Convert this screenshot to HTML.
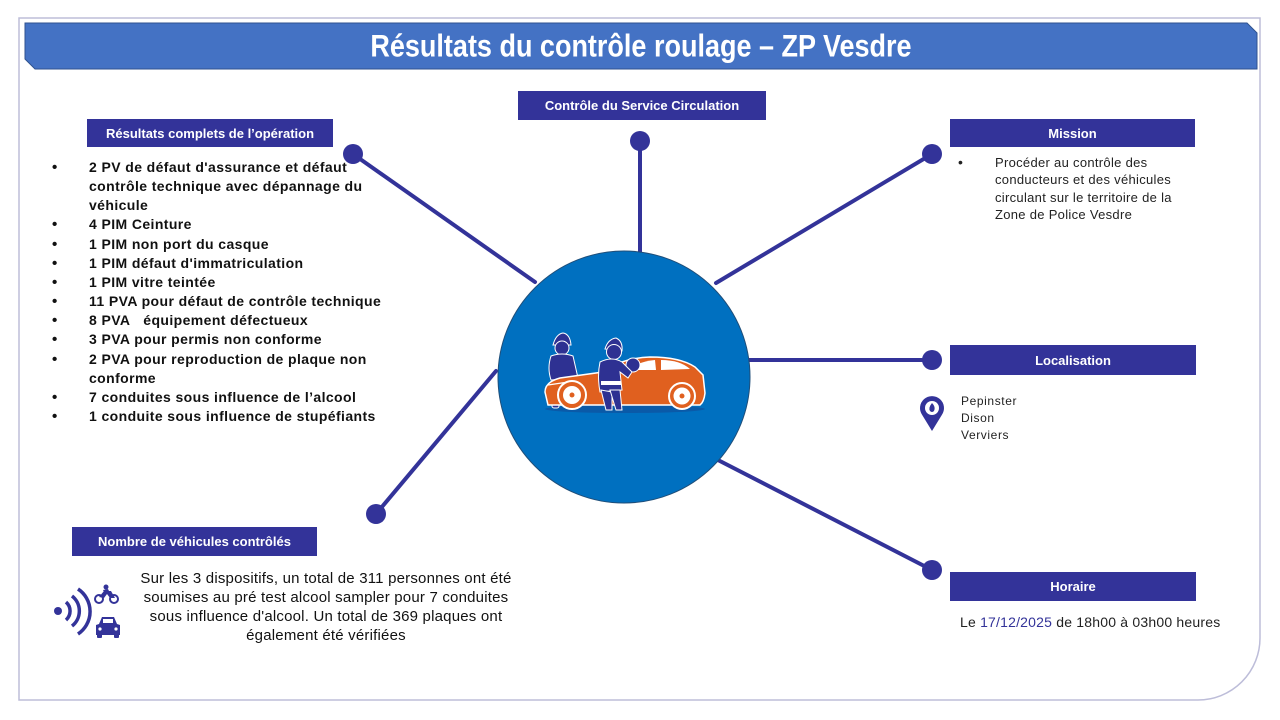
<!DOCTYPE html>
<html><head><meta charset="utf-8">
<style>
html,body{margin:0;padding:0;background:#fff;}
#c{position:relative;width:1280px;height:720px;overflow:hidden;font-family:"Liberation Sans",sans-serif;}
svg{position:absolute;left:0;top:0;}
.box{position:absolute;background:#333399;color:#fff;font-weight:bold;font-size:13px;display:flex;align-items:center;justify-content:center;white-space:nowrap;}
.title{position:absolute;left:25px;top:23px;width:1232px;height:46px;display:flex;align-items:center;justify-content:center;color:#fff;font-weight:bold;font-size:27px;}
.title span{display:inline-block;transform:scaleY(1.15);}
.list{position:absolute;left:0;top:158px;font-weight:bold;font-size:14px;letter-spacing:0.4px;line-height:19.15px;color:#111;white-space:nowrap;}
.list div{position:relative;padding-left:89px;}
.list div.b::before{content:"•";position:absolute;left:52px;top:0;font-size:15px;}
.mission{position:absolute;left:995px;top:154px;font-size:13px;letter-spacing:0.3px;line-height:17.3px;color:#222;white-space:nowrap;}
.mission::before{content:"•";position:absolute;left:-37px;top:0;font-size:14px;}
.loc{position:absolute;left:961px;top:393px;font-size:12px;letter-spacing:0.6px;line-height:17px;color:#222;}
.hor{position:absolute;left:960px;top:614px;font-size:14px;letter-spacing:0.2px;color:#222;white-space:nowrap;}
.hor b{font-weight:normal;color:#333399;}
.nb{position:absolute;left:126px;width:400px;top:569px;text-align:center;font-size:15px;letter-spacing:0.2px;line-height:19px;color:#111;white-space:nowrap;}
</style></head>
<body><div id="c">
<svg width="1280" height="720" viewBox="0 0 1280 720">
  <path d="M19,18 H1260 V638 A62,62 0 0 1 1198,700 H19 Z" fill="none" stroke="#bdbdd9" stroke-width="1.5"/>
  <polygon points="25,23 1247,23 1257,33 1257,69 35,69 25,59" fill="#4472c4" stroke="#2f528f" stroke-width="1"/>
  <g stroke="#333399" stroke-width="4" stroke-linecap="round">
    <line x1="353" y1="154" x2="535" y2="282"/>
    <line x1="640" y1="141" x2="640" y2="258"/>
    <line x1="932" y1="154" x2="716" y2="283"/>
    <line x1="748" y1="360" x2="932" y2="360"/>
    <line x1="716" y1="459" x2="932" y2="570"/>
    <line x1="496" y1="371" x2="376" y2="514"/>
  </g>
  <g fill="#333399">
    <circle cx="353" cy="154" r="10"/>
    <circle cx="640" cy="141" r="10"/>
    <circle cx="932" cy="154" r="10"/>
    <circle cx="932" cy="360" r="10"/>
    <circle cx="932" cy="570" r="10"/>
    <circle cx="376" cy="514" r="10"/>
  </g>
  <circle cx="624" cy="377" r="126" fill="#0070c0" stroke="#1f4e79" stroke-width="1"/>
  <ellipse cx="625" cy="409" rx="80" ry="4" fill="#0a5aa8"/>
  <g fill="#2e3192" stroke="#fff" stroke-width="1">
    <path d="M553,345 Q556,334 563,333 Q570,334 571,345 Z"/>
    <circle cx="562" cy="348" r="7"/>
    <path d="M551,356 Q562,352 573,356 L578,378 L551,380 Q547,368 551,356 Z"/>
    <rect x="552" y="395" width="7" height="13" rx="2"/>
  </g>
  <path d="M548,405 L545,392 Q545,382 560,378 L603,372 Q622,358 650,357 Q680,357 695,367 L703,375 L705,393 Q704,402 700,405 Z" fill="#e0601f" stroke="#fff" stroke-width="1.5"/>
  <path d="M627,370 Q640,361 655,360 L656,370 Z" fill="#fff"/>
  <path d="M661,360 Q680,360 690,369 L661,370 Z" fill="#fff"/>
  <path d="M548,385 L575,381" stroke="#fff" stroke-width="1.2" fill="none"/>
  <g>
    <circle cx="572" cy="395" r="14" fill="#e0601f" stroke="#fff" stroke-width="2"/>
    <circle cx="572" cy="395" r="9" fill="#fff"/>
    <circle cx="572" cy="395" r="2.5" fill="#e0601f"/>
    <circle cx="682" cy="396" r="13" fill="#e0601f" stroke="#fff" stroke-width="2"/>
    <circle cx="682" cy="396" r="8.5" fill="#fff"/>
    <circle cx="682" cy="396" r="2.5" fill="#e0601f"/>
  </g>
  <circle cx="633" cy="365" r="7" fill="#2e3192" stroke="#fff" stroke-width="1"/>
  <g fill="#2e3192" stroke="#fff" stroke-width="1">
    <path d="M605,349 Q608,339 616,338 Q623,341 622,351 Z"/>
    <circle cx="614" cy="352" r="7.5"/>
    <path d="M600,362 Q612,356 622,362 L632,372 L628,378 L620,372 L622,390 L600,392 Q597,376 600,362 Z"/>
    <path d="M601,390 L606,410 L612,410 L612,392 Z"/>
    <path d="M610,390 L616,410 L622,410 L620,390 Z"/>
  </g>
  <rect x="601" y="381" width="20" height="4" fill="#fff"/>
  <path d="M932,431 L922.2,415 A12,12 0 1 1 941.8,415 Z" fill="#333399"/>
  <circle cx="932" cy="408" r="7" fill="#fff"/>
  <path d="M932,403 Q936,407 934,411 Q932,413 930,411 Q928,408 932,403 Z" fill="#333399"/>
  <g fill="#333399">
    <circle cx="58" cy="611" r="4"/>
  </g>
  <g fill="none" stroke="#333399" stroke-width="3.5">
    <path d="M66,602 A12,12 0 0 1 66,620"/>
    <path d="M72,596 A19,19 0 0 1 72,626"/>
    <path d="M78,589 A27,27 0 0 1 78,634"/>
  </g>
  <g fill="#333399">
    <circle cx="99" cy="599" r="4" fill="none" stroke="#333399" stroke-width="2"/>
    <circle cx="114" cy="599" r="4" fill="none" stroke="#333399" stroke-width="2"/>
    <path d="M99,597 L104,591 L111,591 L115,598 L110,598 L107,594 L104,598 Z"/>
    <circle cx="106" cy="587" r="2.5"/>
    <path d="M103,590 L108,589 L110,593 L105,594 Z"/>
  </g>
  <g fill="#333399">
    <path d="M99,624 L102,617 L114,617 L117,624 L120,625 L120,635 L96,635 L96,625 Z"/>
    <rect x="97" y="634" width="5" height="4" rx="1"/>
    <rect x="114" y="634" width="5" height="4" rx="1"/>
    <rect x="103" y="619" width="10" height="4" fill="#fff"/>
    <circle cx="100" cy="629" r="1.6" fill="#fff"/>
    <circle cx="116" cy="629" r="1.6" fill="#fff"/>
  </g>
</svg>

<div class="title"><span>Résultats du contrôle roulage – ZP Vesdre</span></div>

<div class="box" style="left:518px;top:91px;width:248px;height:29px;">Contrôle du Service Circulation</div>
<div class="box" style="left:87px;top:119px;width:246px;height:28px;">Résultats complets de l’opération</div>
<div class="box" style="left:950px;top:119px;width:245px;height:28px;">Mission</div>
<div class="box" style="left:950px;top:345px;width:246px;height:30px;">Localisation</div>
<div class="box" style="left:950px;top:572px;width:246px;height:29px;">Horaire</div>
<div class="box" style="left:72px;top:527px;width:245px;height:29px;">Nombre de véhicules contrôlés</div>

<div class="list">
  <div class="b">2 PV de défaut d'assurance et défaut</div>
  <div>contrôle technique avec dépannage du</div>
  <div>véhicule</div>
  <div class="b">4 PIM Ceinture</div>
  <div class="b">1 PIM non port du casque</div>
  <div class="b">1 PIM défaut d'immatriculation</div>
  <div class="b">1 PIM vitre teintée</div>
  <div class="b">11 PVA pour défaut de contrôle technique</div>
  <div class="b">8 PVA&nbsp;&nbsp; équipement défectueux</div>
  <div class="b">3 PVA pour permis non conforme</div>
  <div class="b">2 PVA pour reproduction de plaque non</div>
  <div>conforme</div>
  <div class="b">7 conduites sous influence de l’alcool</div>
  <div class="b">1 conduite sous influence de stupéfiants</div>
</div>

<div class="mission">Procéder au contrôle des<br>conducteurs et des véhicules<br>circulant sur le territoire de la<br>Zone de Police Vesdre</div>

<div class="loc">Pepinster<br>Dison<br>Verviers</div>

<div class="hor">Le <b>17/12/2025</b> de 18h00 à 03h00 heures</div>

<div class="nb">Sur les 3 dispositifs, un total de 311 personnes ont été<br>soumises au pré test alcool sampler pour 7 conduites<br>sous influence d'alcool. Un total de 369 plaques ont<br>également été vérifiées</div>

</div></body></html>
